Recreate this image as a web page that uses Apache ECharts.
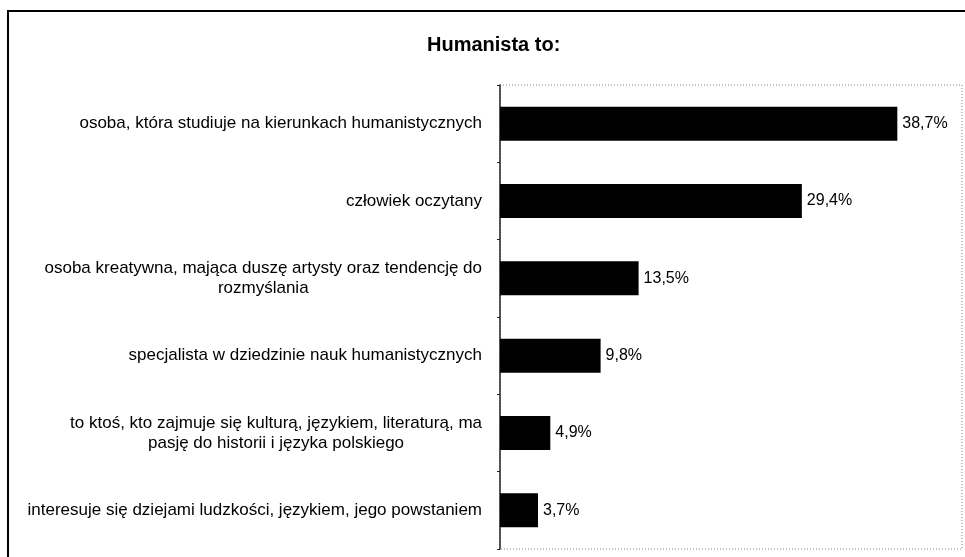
<!DOCTYPE html>
<html>
<head>
<meta charset="utf-8">
<script src="https://cdn.jsdelivr.net/npm/echarts@6/dist/echarts.min.js"></script>
<style>
    html, body { margin: 0; padding: 0; background: #fff; }
    #chart { width: 965px; height: 557px; }
</style>
</head>
<body>
<div id="chart"></div>
<script>
// dane wykresu
const categories = [
    'osoba, która studiuje na kierunkach humanistycznych',
    'człowiek oczytany',
    'osoba kreatywna, mająca duszę artysty oraz tendencję do\nrozmyślania',
    'specjalista w dziedzinie nauk humanistycznych',
    'to ktoś, kto zajmuje się kulturą, językiem, literaturą, ma\npasję do historii i języka polskiego',
    'interesuje się dziejami ludzkości, językiem, jego powstaniem'
];
const values = [38.7, 29.4, 13.5, 9.8, 4.9, 3.7];
const axisMax = 45;

// obszar wykresu
const grid = { left: 500, top: 85, right: 3, bottom: 8 };
const font = '"Liberation Sans", Arial, sans-serif';

document.addEventListener('DOMContentLoaded', function() {
    const chart = echarts.init(document.getElementById('chart'));

    const option = {
        backgroundColor: '#fff',
        animation: false,
        title: {
            text: 'Humanista to:',
            left: 422,
            top: 30,
            textStyle: { fontFamily: font, fontSize: 20, fontWeight: 'bold', color: '#000' }
        },
        graphic: [
            {
                // ramka całego wykresu
                type: 'rect',
                shape: { x: 8, y: 11, width: 1000, height: 600 },
                style: { fill: 'none', stroke: '#000', lineWidth: 2 }
            },
            {
                // kropkowana ramka obszaru kreślenia
                type: 'rect',
                shape: { x: grid.left, y: grid.top, width: 965 - grid.left - grid.right, height: 557 - grid.top - grid.bottom },
                style: { fill: 'none', stroke: '#888', lineWidth: 1, lineDash: [1, 2] },
                z: 0
            }
        ],
        grid: grid,
        xAxis: {
            type: 'value',
            min: 0,
            max: axisMax,
            axisLine: { show: false },
            axisTick: { show: false },
            axisLabel: { show: false },
            splitLine: { show: false }
        },
        yAxis: {
            type: 'category',
            inverse: true,
            data: categories,
            axisLine: { show: true, lineStyle: { color: '#222', width: 1.5 } },
            axisTick: { show: true, length: 3, lineStyle: { color: '#222' } },
            axisLabel: {
                margin: 18,
                color: '#000',
                fontFamily: font,
                fontSize: 17,
                formatter: function(v) {
                    return v.split('\n').map(l => '{c|' + l + '}').join('\n');
                },
                rich: {
                    c: { align: 'center', fontFamily: font, fontSize: 17, lineHeight: 20, color: '#000' }
                }
            }
        },
        series: [
            {
                type: 'bar',
                data: values,
                barWidth: 34,
                itemStyle: { color: '#000' },
                label: {
                    show: true,
                    position: 'right',
                    distance: 5,
                    color: '#000',
                    fontFamily: font,
                    fontSize: 16,
                    formatter: function(p) {
                        return p.value.toFixed(1).replace('.', ',') + '%';
                    }
                }
            }
        ]
    };

    chart.setOption(option);
});
</script>
</body>
</html>
